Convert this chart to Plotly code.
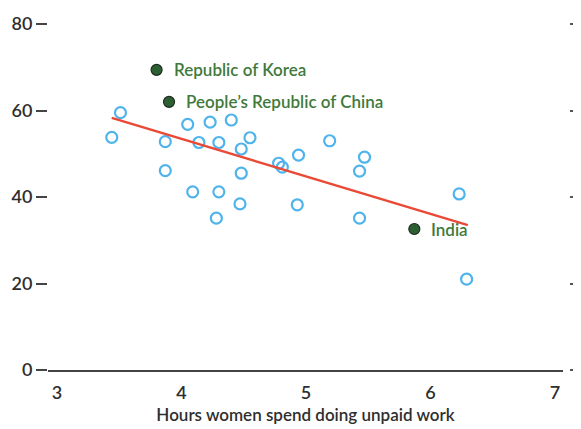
import plotly.graph_objects as go

# Other economies (hollow markers)
hours = [3.51, 3.44, 3.87, 4.05, 4.23, 4.40, 4.14, 4.30, 4.55, 4.48, 3.87, 4.48, 4.09,
         4.30, 4.47, 4.28, 4.78, 4.81, 4.94, 5.19, 4.93, 5.47, 5.43, 5.43, 6.23, 6.29]
share = [59.5, 53.8, 52.8, 56.8, 57.3, 57.8, 52.6, 52.6, 53.7, 51.1, 46.1, 45.5, 41.2,
         41.2, 38.4, 35.1, 47.8, 46.9, 49.7, 53.0, 38.2, 49.2, 46.0, 35.1, 40.7, 21.0]

# Highlighted economies
hl_names = ["Republic of Korea", "People\u2019s Republic of China", "India"]
hl_hours = [3.80, 3.90, 5.87]
hl_share = [69.4, 62.0, 32.6]

# Trend line
trend_x = [3.44, 6.30]
trend_y = [58.3, 33.5]

x_ticks = [3, 4, 5, 6, 7]
y_ticks = [0, 20, 40, 60, 80]

FONT = "Lato"
DARK = "#2e2e2e"
GREEN_TXT = "#3f7a3c"

fig = go.Figure()

fig.add_trace(go.Scatter(
    x=hours, y=share, mode="markers",
    marker=dict(symbol="circle-open", size=11, color="#4fb4ec", line=dict(width=2.2)),
    hoverinfo="skip", showlegend=False))

fig.add_trace(go.Scatter(
    x=trend_x, y=trend_y, mode="lines",
    line=dict(color="#ea4a35", width=2.5),
    hoverinfo="skip", showlegend=False))

fig.add_trace(go.Scatter(
    x=hl_hours, y=hl_share, mode="markers",
    marker=dict(symbol="circle", size=11, color="#2c5f32",
                line=dict(color="#1e2b20", width=1.2)),
    hoverinfo="skip", showlegend=False))

for n, hx, hy in zip(hl_names, hl_hours, hl_share):
    fig.add_annotation(x=hx, y=hy, text=n, showarrow=False, xanchor="left",
                       xshift=15, yshift=0,
                       font=dict(family=FONT, size=17, color=GREEN_TXT, weight=600))

L, R = 40, 6
PW = 581 - L - R
DOM_END = (555 - L) / PW

fig.update_layout(
    width=581, height=429,
    margin=dict(l=L, r=R, t=16, b=67),
    paper_bgcolor="white", plot_bgcolor="white",
    font=dict(family=FONT, size=17, color=DARK),
    xaxis=dict(
        domain=[0, DOM_END], automargin=False,
        range=[2.928, 7.064], tickvals=x_ticks, ticktext=[str(v) for v in x_ticks],
        ticks="", showgrid=False, zeroline=False,
        showline=True, linecolor="#444444", linewidth=2,
        ticklabelstandoff=5,
        tickfont=dict(family=FONT, size=18, color=DARK, weight=600),
        title=dict(text="Hours women spend doing unpaid work",
                   font=dict(family=FONT, size=17, color=DARK, weight=600), standoff=8),
    ),
    xaxis2=dict(
        domain=[0, DOM_END], overlaying="x", anchor="y", side="bottom",
        range=[3, 7], tickvals=[3, 7], ticks="inside", ticklen=5, tickwidth=1.5,
        tickcolor="#444444", showticklabels=False, showgrid=False, zeroline=False,
        showline=False,
    ),
    yaxis=dict(
        range=[0, 80], tickvals=y_ticks, ticks="outside", ticklen=11, tickwidth=2,
        tickcolor="#444444", showgrid=False, zeroline=False, showline=False,
        ticklabelstandoff=0, automargin=False,
        tickfont=dict(family=FONT, size=18, color=DARK, weight=600),
    ),
    yaxis2=dict(
        range=[0, 80], overlaying="y", side="right", anchor="free",
        position=(561 - L) / PW,
        tickvals=y_ticks, ticks="outside", ticklen=10, tickwidth=2,
        tickcolor="#555555", showticklabels=False, showgrid=False,
        zeroline=False, showline=False,
    ),
)

# invisible trace to activate the secondary axes
fig.add_trace(go.Scatter(x=[3], y=[0], xaxis="x2", yaxis="y2", mode="markers",
                         marker=dict(opacity=0), hoverinfo="skip", showlegend=False))

fig.write_html("out.html")
